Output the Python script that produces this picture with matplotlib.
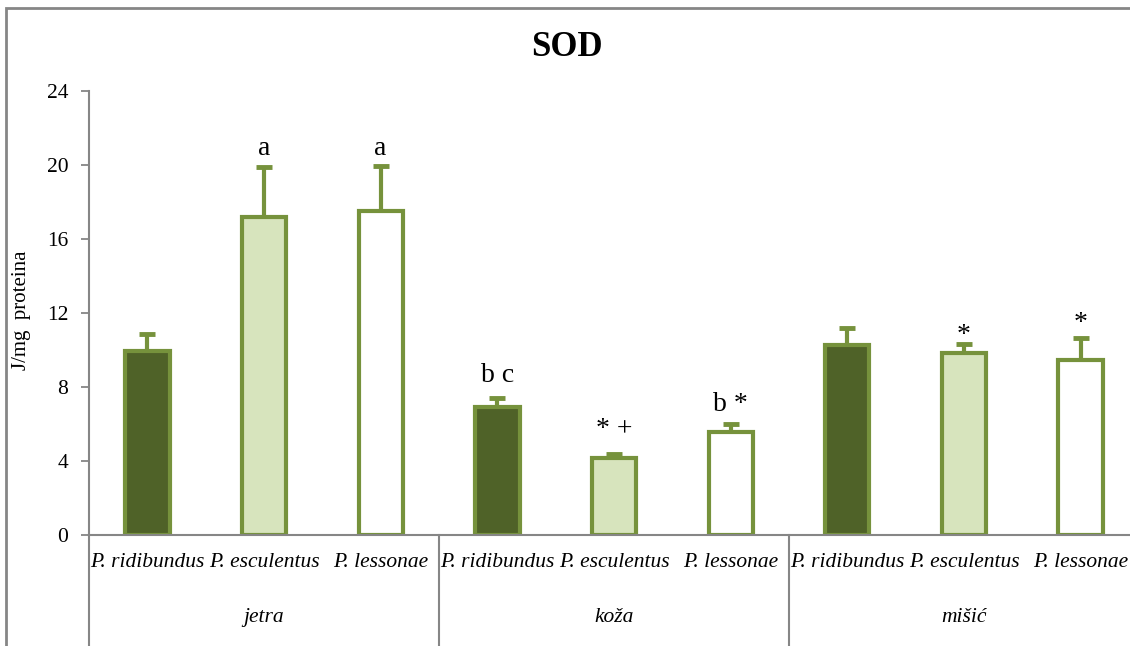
import matplotlib
matplotlib.use("Agg")
import matplotlib.pyplot as plt
from matplotlib.patches import Rectangle

# ---- data ----
groups = ["jetra", "koža", "mišić"]
species = ["P. ridibundus", "P. esculentus", "P. lessonae"]
means = [9.95, 17.2, 17.5, 6.92, 4.18, 5.57, 10.29, 9.86, 9.48]
err_top = [10.86, 19.9, 19.95, 7.4, 4.4, 6.0, 11.2, 10.34, 10.65]
annotations = ["", "a", "a", "b c", "* +", "b *", "", "*", "*"]
annot_y = [None, 20.54, 20.54, 8.27, 5.35, 6.72, None, 10.43, 11.08]
yticks = [0, 4, 8, 12, 16, 20, 24]

fills = ["#4F6228", "#D7E4BD", "#FFFFFF"]
edge = "#76923C"
gray = "#868686"

plt.rcParams["font.family"] = ["Liberation Serif", "DejaVu Serif"]

W, H = 1130, 646
fig = plt.figure(figsize=(W / 100, H / 100), dpi=100)
left_px, right_px, top_px, bot_px = 89, 1139, 91, 535
ax = fig.add_axes([left_px / W, 1 - bot_px / H, (right_px - left_px) / W, (bot_px - top_px) / H])

n = len(means)
xs = list(range(n))
colors = [fills[i % 3] for i in range(n)]
lower = [0] * n
upper = [t - m for t, m in zip(err_top, means)]
ax.errorbar(xs, means, yerr=[lower, upper], fmt="none", ecolor=edge,
            elinewidth=3, capsize=5.5, capthick=3.5, zorder=1)
ax.bar(xs, means, width=0.38, color=colors, edgecolor=edge, linewidth=3, zorder=2)

for x, s, y in zip(xs, annotations, annot_y):
    if s:
        ax.text(x, y, s, ha="center", va="baseline", fontsize=20, color="black")

ax.set_xlim(-0.5, n - 0.5)
ax.set_ylim(0, 24)
ax.set_yticks(yticks)
ax.set_yticklabels([str(t) for t in yticks], fontsize=15.5)
ax.tick_params(axis="y", direction="out", length=6, width=1.3, color=gray, pad=9)
ax.set_xticks([])
for s in ["top", "right"]:
    ax.spines[s].set_visible(False)
for s in ["left", "bottom"]:
    ax.spines[s].set_color(gray)
    ax.spines[s].set_linewidth(1.5)

# category labels
for x in xs:
    ax.text(x, -0.061, species[x % 3], transform=ax.get_xaxis_transform(),
            ha="center", va="center", fontsize=15.5, style="italic")
for g, name in enumerate(groups):
    ax.text(3 * g + 1, -0.185, name, transform=ax.get_xaxis_transform(),
            ha="center", va="center", fontsize=15.5, style="italic")
for b in [-0.5, 2.5, 5.5, 8.5]:
    ax.plot([b, b], [0, -0.26], transform=ax.get_xaxis_transform(),
            color=gray, lw=1.5, clip_on=False)

fig.text(567 / W, 1 - 48 / H, "SOD", ha="center", va="center", fontsize=25, fontweight="bold")
fig.text(22 / W, 1 - 310 / H, "J/mg  proteina", rotation=90, ha="center", va="center", fontsize=15)

fig.patches.append(Rectangle((6 / W, -0.1), 1.2, 1 - 8 / H + 0.1, transform=fig.transFigure,
                             fill=False, edgecolor=gray, linewidth=2))

fig.savefig("out.png", dpi=100)
